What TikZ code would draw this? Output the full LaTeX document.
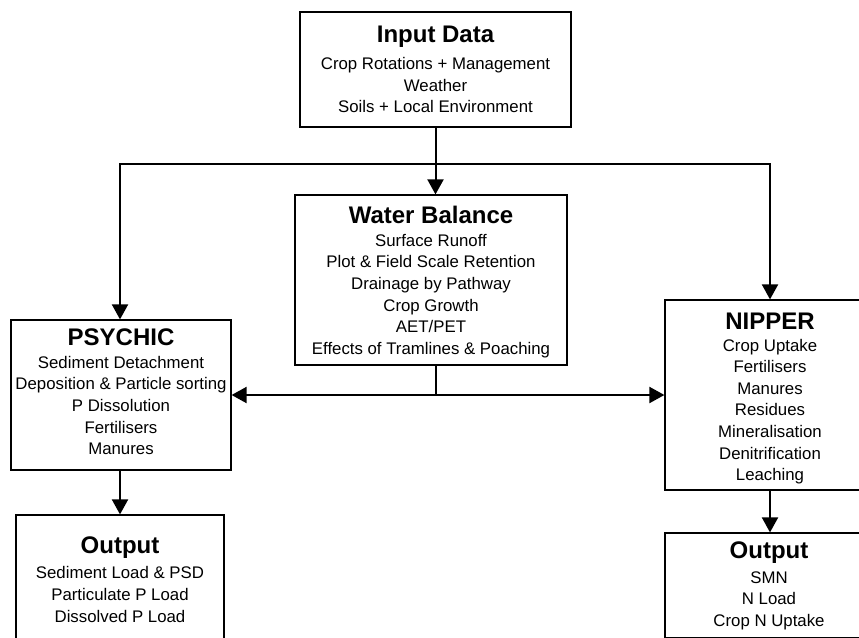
\documentclass[tikz,border=0pt]{standalone}
\usepackage{fontspec}
\setmainfont{Liberation Sans}
\usetikzlibrary{arrows.meta}
\tikzset{
  box/.style={draw=black, line width=1.2pt, rectangle, inner sep=0pt},
  ttl/.style={font=\fontsize{24}{26}\selectfont\bfseries, inner sep=0pt},
  bdy/.style={font=\fontsize{16.8}{21.6}\selectfont, align=center, inner sep=0pt},
  conn/.style={draw=black, line width=2pt},
  arr/.style={conn, -{Triangle[length=15pt,width=16pt]}},
  darr/.style={conn, {Triangle[length=15pt,width=16pt]}-{Triangle[length=15pt,width=16pt]}}
}
\begin{document}
\begin{tikzpicture}[x=1pt,y=-1pt]
\useasboundingbox (0,0) rectangle (859,637);
\clip (0,0) rectangle (859,637);
\fill[white] (0,0) rectangle (859,637);

% boxes
\node[box, minimum width=271pt, minimum height=115pt] (input) at (435.5,69.5) {};
\node[box, minimum width=272pt, minimum height=170pt] (water) at (431,280) {};
\node[box, minimum width=220pt, minimum height=150pt] (psychic) at (121,395) {};
\node[box, minimum width=210pt, minimum height=190pt] (nipper) at (770,395) {};
\node[box, minimum width=208pt, minimum height=150pt] (outL) at (120,590) {};
\node[box, minimum width=210pt, minimum height=105pt] (outR) at (770,585.5) {};

% texts
\node[ttl] (input-t) at (435.5,37) {Input Data};
\node[bdy] (input-b) at (435.5,85) {Crop Rotations + Management\\Weather\\Soils + Local Environment};

\node[ttl] (water-t) at (431,215) {Water Balance};
\node[bdy] (water-b) at (431,296) {Surface Runoff\\Plot \& Field Scale Retention\\Drainage by Pathway\\Crop Growth\\AET/PET\\Effects of Tramlines \& Poaching};

\node[ttl] (psychic-t) at (121,337) {PSYCHIC};
\node[bdy] (psychic-b) at (121,405.5) {Sediment Detachment\\Deposition \& Particle sorting\\P Dissolution\\Fertilisers\\Manures};

\node[ttl] (nipper-t) at (770,321) {NIPPER};
\node[bdy] (nipper-b) at (770,411.5) {Crop Uptake\\Fertilisers\\Manures\\Residues\\Mineralisation\\Denitrification\\Leaching};

\node[ttl] (outL-t) at (120,548) {Output};
\node[bdy] (outL-b) at (120,594.5) {Sediment Load \& PSD\\Particulate P Load\\Dissolved P Load};

\node[ttl] (outR-t) at (769,553) {Output};
\node[bdy] (outR-b) at (769,600.5) {SMN\\N Load\\Crop N Uptake};

% connectors
\coordinate (split) at (435.5,164);
\draw[arr] (input.south) -- (input.south |- water.north);
\draw[arr] (split) -| ([xshift=-1pt]psychic.north);
\draw[arr] (split) -| (nipper.north);
\coordinate (wjoin) at (input.south |- psychic.east);
\draw[conn] (input.south |- water.south) -- (wjoin);
\draw[darr] (psychic.east) -- (nipper.west);
\draw[arr] ([xshift=-1pt]psychic.south) -- ([xshift=-1pt]psychic.south |- outL.north);
\draw[arr] (nipper.south) -- (outR.north);
\end{tikzpicture}
\end{document}
